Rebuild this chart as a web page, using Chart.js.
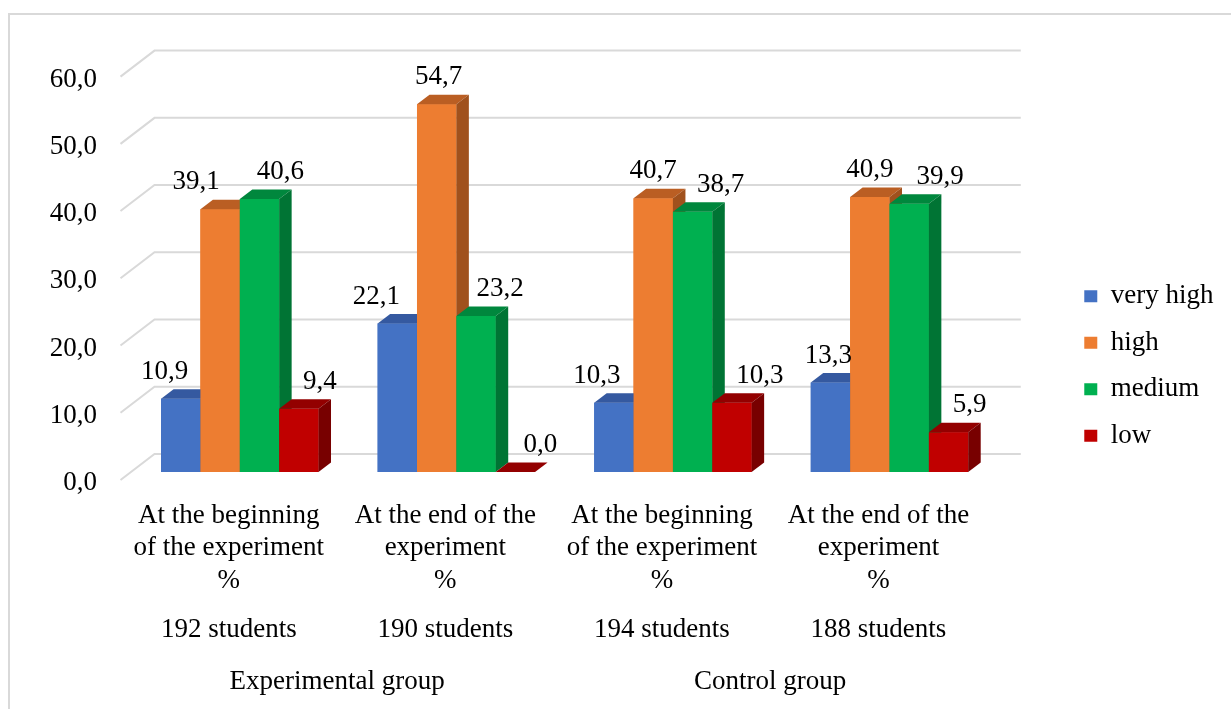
<!DOCTYPE html>
<html>
<head>
<meta charset="utf-8">
<script src="https://cdn.jsdelivr.net/npm/chart.js@4.4.1/dist/chart.umd.min.js"></script>
<style>
  html, body { margin: 0; padding: 0; background: #fff; overflow: hidden; }
  #frame { position: absolute; left: 8px; top: 13px; width: 1400px; height: 900px; border: 2px solid #d9d9d9; box-sizing: border-box; }
  #wrap { position: absolute; left: 0; top: 0; width: 1231px; height: 709px; }
</style>
</head>
<body>
<div id="frame"></div>
<div id="wrap"><canvas id="chart"></canvas></div>
<script>
// categories
const periods = [
    ['At the beginning', 'of the experiment', '%'],
    ['At the end of the', 'experiment', '%'],
    ['At the beginning', 'of the experiment', '%'],
    ['At the end of the', 'experiment', '%']
];
const studentCounts = ['192 students', '190 students', '194 students', '188 students'];
const groups = ['Experimental group', 'Control group'];
const levels = ['very high', 'high', 'medium', 'low'];

// values, %
const veryHigh = [10.9, 22.1, 10.3, 13.3];
const high = [39.1, 54.7, 40.7, 40.9];
const medium = [40.6, 23.2, 38.7, 39.9];
const low = [9.4, 0.0, 10.3, 5.9];

const yTicks = [0, 10, 20, 30, 40, 50, 60];

// styles
const frontColors = ['#4472C4', '#ED7D31', '#00B050', '#C00000'];
const topColors = ['#3559A0', '#BA5E23', '#00873D', '#930000'];
const sideColors = ['#2F4F8E', '#A0511D', '#007434', '#780000'];
// horizontal shift of each value label (Excel's 3d placement)
const labelNudge = [
    [-16, -21, -17, -2],
    [-24, 2, 0, 0],
    [21, 24, 28, 31],
    [21, 25, 28, 21]
];
const FONT = {family: "'Liberation Serif', 'Times New Roman', serif", size: 27, lineHeight: 1.2};
const DX = 12.5, DY = -9.5;

const fmt = v => v.toFixed(1).replace('.', ',');

const threeD = {
    id: 'threeD',
    beforeDatasetsDraw(chart) {
        const {ctx, chartArea, scales: {y}} = chart;
        ctx.save();
        ctx.strokeStyle = '#d9d9d9';
        ctx.lineWidth = 2;
        const fx = chartArea.left - 11, bx = chartArea.left + 23, ex = chartArea.right + 23;
        y.ticks.forEach(t => {
            const py = y.getPixelForValue(t.value);
            ctx.beginPath();
            ctx.moveTo(fx, py + 8);
            ctx.lineTo(bx, py - 18);
            ctx.lineTo(ex, py - 18);
            ctx.stroke();
        });
        ctx.restore();
    },
    afterDatasetsDraw(chart) {
        const {ctx} = chart;
        const n = chart.data.labels.length;
        const sets = chart.data.datasets;
        ctx.save();
        for (let i = 0; i < n; i++) {
            sets.forEach((ds, d) => {
                const bar = chart.getDatasetMeta(d).data[i];
                const {x, y, base, width} = bar.getProps(['x', 'y', 'base', 'width'], true);
                const l = x - width / 2, r = x + width / 2;
                ctx.fillStyle = frontColors[d];
                ctx.fillRect(l, y, width, base - y);
                ctx.fillStyle = topColors[d];
                ctx.beginPath();
                ctx.moveTo(l, y);
                ctx.lineTo(r, y);
                ctx.lineTo(r + DX, y + DY);
                ctx.lineTo(l + DX, y + DY);
                ctx.closePath();
                ctx.fill();
                ctx.fillStyle = sideColors[d];
                ctx.beginPath();
                ctx.moveTo(r, y);
                ctx.lineTo(r + DX, y + DY);
                ctx.lineTo(r + DX, base + DY);
                ctx.lineTo(r, base);
                ctx.closePath();
                ctx.fill();
            });
        }
        ctx.font = FONT.size + 'px ' + FONT.family;
        ctx.fillStyle = '#000';
        ctx.textAlign = 'center';
        ctx.textBaseline = 'middle';
        sets.forEach((ds, d) => {
            chart.getDatasetMeta(d).data.forEach((bar, i) => {
                ctx.fillText(fmt(ds.data[i]), bar.x + labelNudge[d][i], bar.y - 27);
            });
        });
        ctx.restore();
    }
};

const series = [veryHigh, high, medium, low];

new Chart(document.getElementById('chart'), {
    type: 'bar',
    data: {
        labels: periods,
        datasets: levels.map((name, d) => ({
            label: name,
            data: series[d],
            backgroundColor: frontColors[d],
            borderWidth: 0,
            categoryPercentage: 0.727,
            barPercentage: 1
        }))
    },
    options: {
        responsive: true,
        maintainAspectRatio: false,
        animation: false,
        layout: {padding: {left: 0, top: 35, right: 7.5, bottom: 11.8}},
        plugins: {
            legend: {
                position: 'right',
                labels: {boxWidth: 13, boxHeight: 12, padding: 19.5, color: '#000', font: FONT}
            },
            tooltip: {enabled: false}
        },
        scales: {
            x: {
                weight: 0,
                grid: {display: false, drawTicks: false},
                border: {display: false},
                ticks: {color: '#000', font: FONT, padding: 27.8, labelOffset: -11, maxRotation: 0, autoSkip: false},
                afterFit: s => { s.height = 125; }
            },
            x2: {
                type: 'category',
                position: 'bottom',
                weight: 1,
                labels: studentCounts,
                offset: true,
                grid: {display: false, drawTicks: false},
                border: {display: false},
                ticks: {color: '#000', font: FONT, padding: 16.8, labelOffset: -11, maxRotation: 0, autoSkip: false},
                afterFit: s => { s.height = 49.2; }
            },
            x3: {
                type: 'category',
                position: 'bottom',
                weight: 2,
                labels: groups,
                offset: true,
                grid: {display: false, drawTicks: false},
                border: {display: false},
                ticks: {color: '#000', font: FONT, padding: 19.5, labelOffset: -11, maxRotation: 0, autoSkip: false},
                afterFit: s => { s.height = 51; }
            },
            y: {
                position: 'left',
                min: 0,
                max: 65,
                grid: {display: false, drawTicks: false},
                border: {display: false},
                ticks: {color: '#000', font: FONT, padding: 34.5, labelOffset: 11, callback: v => fmt(v)},
                afterBuildTicks: s => { s.ticks = yTicks.map(v => ({value: v})); },
                afterFit: s => { s.width = 131.5; s.paddingTop = 0; s.paddingBottom = 0; }
            },
            yr: {
                position: 'right',
                display: true,
                grid: {display: false, drawTicks: false},
                border: {display: false},
                ticks: {display: false},
                afterFit: s => { s.width = 67; s.paddingTop = 0; s.paddingBottom = 0; }
            }
        }
    },
    plugins: [threeD]
});
</script>
</body>
</html>
